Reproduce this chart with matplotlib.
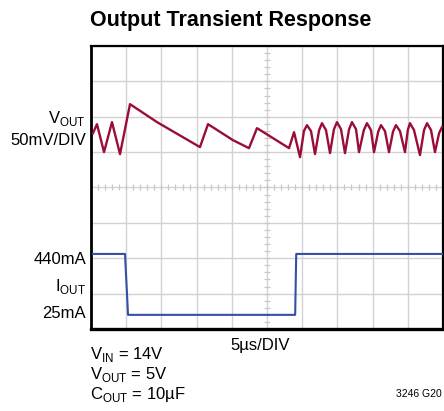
import numpy as np
import matplotlib
matplotlib.use('Agg')
import matplotlib.pyplot as plt

plt.rcParams['font.family'] = ['Liberation Sans', 'DejaVu Sans']
plt.rcParams['mathtext.fontset'] = 'custom'
plt.rcParams['mathtext.rm'] = 'Liberation Sans'

# scope trace readings, time in us (5us/DIV)
vout_t = [0.28, 0.85, 1.85, 2.98, 4.12, 5.54, 9.38, 15.48, 16.62, 20.17, 22.44, 23.58,
          28.13, 28.84, 29.69, 30.25, 30.68, 31.25, 31.82, 32.40, 32.81, 33.38, 33.95,
          34.50, 34.94, 35.51, 36.08, 36.65, 37.07, 37.64, 38.07, 38.75, 39.20, 39.77,
          40.20, 40.80, 41.19, 41.76, 42.33, 42.90, 43.32, 43.89, 44.60, 45.00, 45.31,
          45.88, 46.73, 47.30, 47.73, 48.30, 48.86, 49.45, 49.86]
# output voltage deviation, mV (50mV/DIV)
vout_mv = [26.8, 39.5, 0.0, 42.4, -2.8, 67.8, 42.4, 7.1, 39.5, 16.9, 5.6, 33.9,
           5.6, 28.2, -7.1, 30.0, 38.1, 29.7, -2.8, 31.0, 40.9, 31.1, -1.4,
           32.0, 42.4, 32.5, -1.4, 32.0, 42.4, 32.5, 0.0, 31.0, 40.9, 31.1,
           0.0, 29.0, 38.1, 29.7, 0.0, 29.0, 38.1, 29.7, 0.0, 31.0, 40.9,
           31.1, -4.2, 31.0, 40.9, 31.1, 0.0, 27.0, 35.3]

iout_t = [0.28, 4.83, 5.26, 29.0, 29.15, 50.0]
iout_ma = [440, 440, 25, 25, 440, 440]

VOUT_POS = 5.0      # division where the vout trace is centred
MV_PER_DIV = 50.0
I_BASE = 0.40       # division of the 25mA level
MA_PER_DIV = 241.0

fig = plt.figure(figsize=(4.44, 4.11), dpi=100)
ax = fig.add_axes([91/444, 1-329/411, 352/444, 283/411])

ax.set_xlim(0, 50)
ax.set_ylim(0, 8)
ax.set_xticks(np.arange(0, 51, 5))
ax.set_yticks(np.arange(0, 9, 1))
ax.tick_params(length=0, labelbottom=False, labelleft=False)
ax.grid(True, color='#d2d2d2', linewidth=1.0)
ax.set_axisbelow(True)

# centre graticule with small ticks
ax.plot(np.arange(0, 50.1, 1), np.full(51, 4.0), ls='none', marker='|',
        ms=4, mew=0.9, color='#c8c8c8', zorder=1)
ax.plot(np.full(41, 25.0), np.arange(0, 8.01, 0.2), ls='none', marker='_',
        ms=4, mew=0.9, color='#c8c8c8', zorder=1)

for s in ax.spines.values():
    s.set_linewidth(1.6)
ax.spines['left'].set_linewidth(2.0)
ax.spines['bottom'].set_linewidth(2.4)

ax.plot(vout_t, VOUT_POS + np.array(vout_mv)/MV_PER_DIV, color='#9b0d35',
        linewidth=1.7, zorder=3)
ax.plot(iout_t, I_BASE + (np.array(iout_ma)-25)/MA_PER_DIV, color='#3350a6',
        linewidth=1.5, zorder=3)

def ftext(x, y, s, **kw):
    fig.text(x/444, 1-y/411, s, **kw)

ftext(231, 26, 'Output Transient Response', fontsize=15.5, fontweight='bold',
      ha='center', va='baseline')

lab = dict(fontsize=12, ha='right', va='baseline')
ftext(86, 123, r'V$_\mathregular{OUT}$', **lab)
ftext(86, 145, '50mV/DIV', **lab)
ftext(86, 264, '440mA', **lab)
ftext(86, 291, r'I$_\mathregular{OUT}$', **lab)
ftext(86, 318, '25mA', **lab)

ftext(260, 350, '5µs/DIV', fontsize=12, ha='center', va='baseline')
cond = dict(fontsize=12, ha='left', va='baseline')
ftext(90, 359, r'V$_\mathregular{IN}$ = 14V', **cond)
ftext(90, 379, r'V$_\mathregular{OUT}$ = 5V', **cond)
ftext(90, 399, r'C$_\mathregular{OUT}$ = 10µF', **cond)
ftext(442, 397, '3246 G20', fontsize=7.5, ha='right', va='baseline')

fig.savefig('out.png', dpi=100)
